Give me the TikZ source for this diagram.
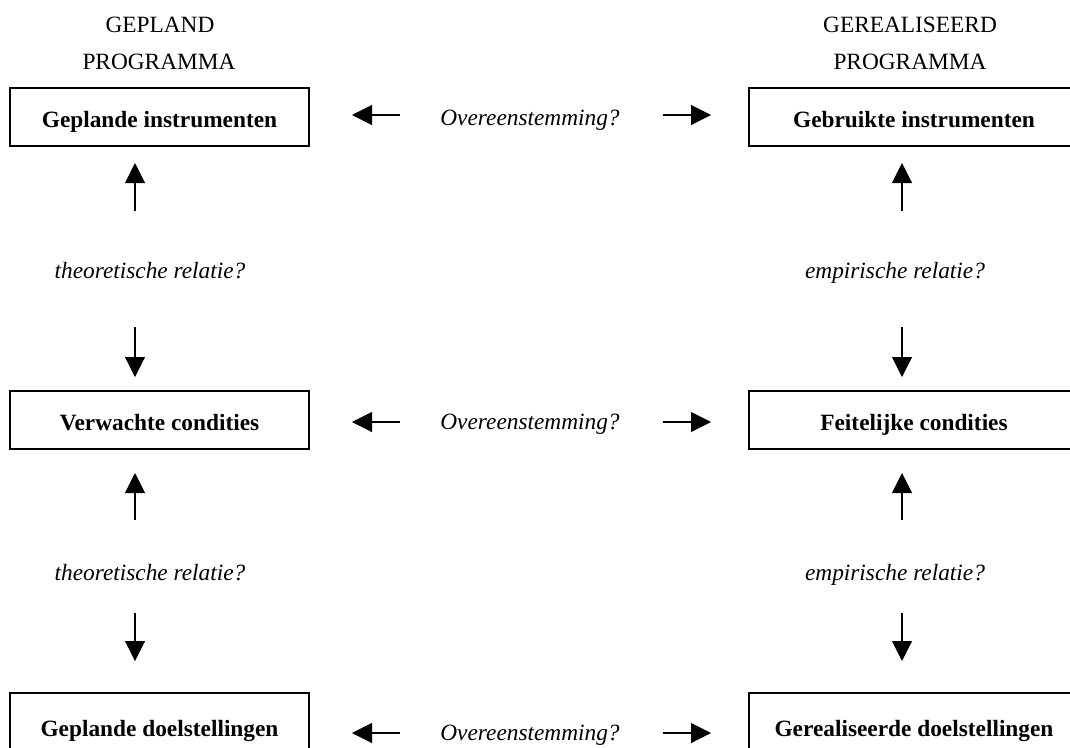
\documentclass[tikz,border=0pt]{standalone}
\usepackage{fontspec}
\setmainfont{Liberation Serif}
\usetikzlibrary{arrows.meta}
\begin{document}
\begin{tikzpicture}[x=0.75pt,y=-0.75pt,
  every node/.style={font=\fontsize{17.5pt}{21pt}\selectfont, inner sep=0pt},
  boxnode/.style={draw, line width=1.5pt, minimum height=43.5pt, text height=15pt, text depth=0pt, font=\fontsize{17.5pt}{21pt}\selectfont\bfseries},
  lbox/.style={boxnode, minimum width=224pt},
  rbox/.style={boxnode, minimum width=248pt},
  qlabel/.style={anchor=base, font=\fontsize{17.5pt}{21pt}\selectfont\itshape},
  head/.style={anchor=base},
  arr/.style={line width=0.8pt, -{Triangle[length=15pt,width=15pt]}}]
\useasboundingbox (0,0) rectangle (1070,747);
\clip (0,0) rectangle (1070,747);
% headings
\node[head] (h1a) at (160,32) {GEPLAND};
\node[head] (h1b) at (159,69) {PROGRAMMA};
\node[head] (h2a) at (910,32) {GEREALISEERD};
\node[head] (h2b) at (910,69) {PROGRAMMA};
% boxes
\node[lbox] (gi) at (159.5,117) {Geplande instrumenten};
\node[lbox] (vc) at (159.5,420) {Verwachte condities};
\node[lbox, minimum height=49.5pt] (gd) at (159.5,726) {Geplande doelstellingen};
\node[rbox] (bi) at (914,117) {Gebruikte instrumenten};
\node[rbox] (fc) at (914,420) {Feitelijke condities};
\node[rbox, minimum height=49.5pt] (rd) at (914,726) {Gerealiseerde doelstellingen};
% overeenstemming labels
\node[qlabel] (o1) at (530,125) {Overeenstemming?};
\node[qlabel] (o2) at (530,429) {Overeenstemming?};
\node[qlabel] (o3) at (530,740) {Overeenstemming?};
% relation labels
\node[qlabel] (t1) at (150,278) {theoretische relatie?};
\node[qlabel] (t2) at (150,580) {theoretische relatie?};
\node[qlabel] (e1) at (895,278) {empirische relatie?};
\node[qlabel] (e2) at (895,580) {empirische relatie?};
% arrow anchor coordinates
\coordinate (a1s) at (400,115); \coordinate (a1e) at (352,115);
\coordinate (b1s) at (663,115); \coordinate (b1e) at (711,115);
\coordinate (a2s) at (400,422); \coordinate (a2e) at (352,422);
\coordinate (b2s) at (663,422); \coordinate (b2e) at (711,422);
\coordinate (a3s) at (400,733); \coordinate (a3e) at (352,733);
\coordinate (b3s) at (663,733); \coordinate (b3e) at (711,733);
\coordinate (l1s) at (135,211); \coordinate (l1e) at (135,163);
\coordinate (l2s) at (135,327); \coordinate (l2e) at (135,377);
\coordinate (l3s) at (135,520); \coordinate (l3e) at (135,473);
\coordinate (l4s) at (135,613); \coordinate (l4e) at (135,661);
\coordinate (r1s) at (902,211); \coordinate (r1e) at (902,163);
\coordinate (r2s) at (902,327); \coordinate (r2e) at (902,377);
\coordinate (r3s) at (902,520); \coordinate (r3e) at (902,473);
\coordinate (r4s) at (902,613); \coordinate (r4e) at (902,661);
\foreach \p in {a1,b1,a2,b2,a3,b3,l1,l2,l3,l4,r1,r2,r3,r4}
  \draw[arr] (\p s) -- (\p e);
\end{tikzpicture}
\end{document}
